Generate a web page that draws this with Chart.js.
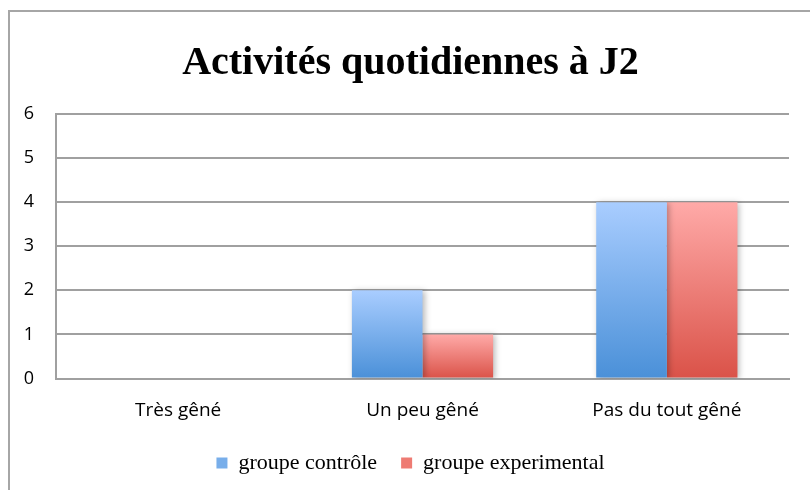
<!DOCTYPE html>
<html><head><meta charset="utf-8">
<script src="https://cdn.jsdelivr.net/npm/chart.js"></script>
<style>
html,body{margin:0;padding:0;background:#fff;overflow:hidden;}
#frame{position:absolute;left:8px;top:10px;width:900px;height:600px;border:2px solid #a6a6a6;box-sizing:border-box;}
#wrap{position:absolute;left:0;top:0;width:810px;height:490px;}
</style></head>
<body>
<div id="frame"></div>
<div id="wrap"><canvas id="c" width="810" height="490"></canvas></div>
<script>
const categories = ["Très gêné", "Un peu gêné", "Pas du tout gêné"];
const controle = [0, 2, 4];
const experimental = [0, 1, 4];
const seriesNames = ["groupe contrôle", "groupe experimental"];
const yTicks = [0, 1, 2, 3, 4, 5, 6];

function grad(top, bottom) {
  return function(ctx) {
    const chart = ctx.chart;
    if (!chart.chartArea || ctx.type !== 'data') return bottom;
    const ys = chart.scales.y;
    const v = ctx.parsed ? ctx.parsed.y : 0;
    const y0 = ys.getPixelForValue(0);
    const y1 = ys.getPixelForValue(v);
    if (Math.abs(y0 - y1) < 1) return bottom;
    const g = chart.ctx.createLinearGradient(0, y1, 0, y0);
    g.addColorStop(0, top);
    g.addColorStop(1, bottom);
    return g;
  };
}

const shadowPlugin = {
  id: 'shadow',
  beforeDatasetsDraw(chart) {
    const c = chart.ctx; c.save();
    c.shadowColor = 'rgba(0,0,0,0.28)'; c.shadowBlur = 6; c.shadowOffsetX = 2; c.shadowOffsetY = 1;
  },
  afterDatasetsDraw(chart) { chart.ctx.restore(); }
};

new Chart(document.getElementById('c'), {
  type: 'bar',
  data: {
    labels: categories,
    datasets: [
      { label: seriesNames[0], data: controle, backgroundColor: grad('#a9cdff', '#4a90d8'), borderWidth: 0 },
      { label: seriesNames[1], data: experimental, backgroundColor: grad('#ffaaa8', '#da5248'), borderWidth: 0 }
    ]
  },
  options: {
    responsive: false,
    animation: false,
    devicePixelRatio: 1,
    layout: { padding: { left: 16, right: 5, top: 0, bottom: 6 } },
    datasets: { bar: { categoryPercentage: 0.578, barPercentage: 1.0 } },
    plugins: {
      title: {
        display: true,
        text: 'Activités quotidiennes à J2',
        color: '#000',
        font: { family: 'Liberation Serif', size: 40, weight: 'bold' },
        padding: { top: 40, bottom: 26 }
      },
      legend: {
        position: 'bottom',
        labels: {
          color: '#000',
          font: { family: 'Liberation Serif', size: 22 },
          boxWidth: 11, boxHeight: 11,
          padding: 24,
          generateLabels(chart) {
            const cols = ['#78aeea', '#ee7b73'];
            return chart.data.datasets.map((d, i) => ({
              text: d.label, fillStyle: cols[i], strokeStyle: cols[i], lineWidth: 0, datasetIndex: i, hidden: false
            }));
          }
        }
      },
      tooltip: { enabled: false }
    },
    scales: {
      x: {
        afterFit(axis) { axis.height = 49.5; },
        grid: { display: false, drawTicks: false },
        border: { display: true, color: '#a0a0a0', width: 2 },
        ticks: { color: '#000', font: { family: 'Open Sans', size: 19 }, padding: 21 }
      },
      y: {
        min: 0, max: 6,
        afterBuildTicks(axis) { axis.ticks = yTicks.map(v => ({ value: v })); },
        afterFit(axis) { axis.width = 40; },
        grid: { color: '#a0a0a0', lineWidth: 2, drawTicks: false },
        border: { display: true, color: '#a0a0a0', width: 2 },
        ticks: { color: '#000', font: { family: 'Open Sans', size: 18 }, padding: 22 }
      },
      yR: {
        position: 'right',
        display: true,
        afterFit(axis) { axis.width = 16; },
        grid: { display: false, drawTicks: false },
        border: { display: false },
        ticks: { display: false }
      }
    }
  },
  plugins: [shadowPlugin]
});
</script>
</body></html>
